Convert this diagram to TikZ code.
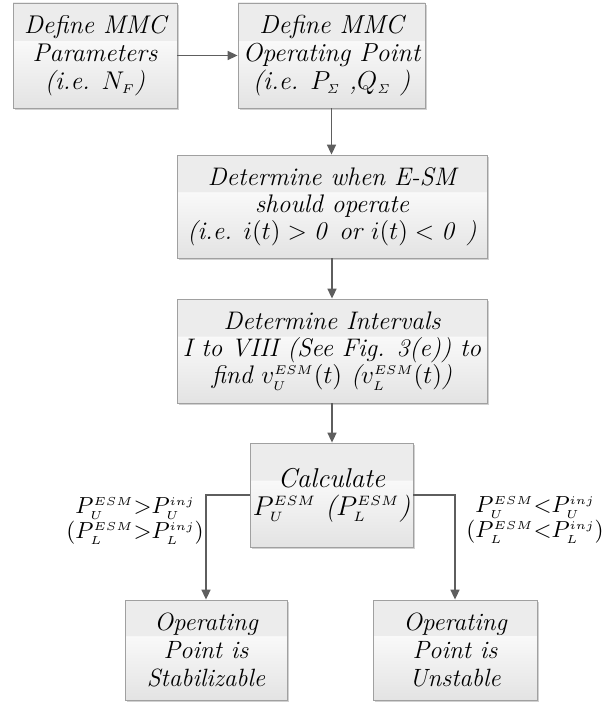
\documentclass[tikz,border=0pt]{standalone}
\usepackage{fix-cm}
\usetikzlibrary{arrows.meta,shadows}
\definecolor{edgeC}{HTML}{A0A0A0}
\definecolor{arrC}{HTML}{5E5E5E}
\definecolor{topC}{HTML}{ECECEC}
\definecolor{midC}{HTML}{F9F9F9}
\definecolor{botC}{HTML}{E3E3E3}
\pgfdeclareverticalshading{glassy}{100bp}{color(0bp)=(botC); color(25bp)=(botC); color(57bp)=(midC); color(57.3bp)=(topC); color(75bp)=(topC); color(100bp)=(topC)}
\newcommand{\ssz}[1]{{\scriptscriptstyle #1}}
\begin{document}
\begin{tikzpicture}[x=0.5pt,y=-0.5pt,
 box/.style={draw=edgeC, line width=0.4pt, shade, shading=glassy,
   drop shadow={shadow xshift=1pt,shadow yshift=-1pt,fill=black,opacity=0.18},
   inner sep=0pt, align=center, font=\fontsize{#1}{14}\selectfont\itshape},
 box/.default=13.4,
 tight/.style={font=\fontsize{12.7}{13.6}\selectfont\itshape},
 arr/.style={draw=arrC, line width=0.8pt, -{Triangle[length=5pt,width=4.5pt]}},
 lab/.style={inner sep=0pt, align=center, font=\fontsize{11.6}{11.5}\selectfont}]
\useasboundingbox (0,0) rectangle (604,706);
\node[box=12.8, minimum width=82pt, minimum height=52.5pt] (b1) at (95,55.5)
  {Define MMC\\Parameters\\(i.e. $N_{\ssz{F}}$)};
\node[box=13, minimum width=93.5pt, minimum height=52.5pt] (b2) at (331.5,55.5)
  {Define MMC\\Operating Point\\(i.e. $P_{\ssz{\mathit{\Sigma}}}$ ,$Q_{\ssz{\mathit{\Sigma}}}$ )};
\node[box, tight, minimum width=155pt, minimum height=51.5pt] (b3) at (332,206.5)
  {Determine when E-SM\\should operate\\(i.e. $i(t) > \mathit{0}$ or $i(t) < \mathit{0}$ )};
\node[box, tight, minimum width=155pt, minimum height=52pt] (b4) at (332,351)
  {Determine Intervals\\I to VIII (See Fig. 3(e)) to\\find $v_{\ssz{U}}^{\ssz{ESM}}(t)$ ($v_{\ssz{L}}^{\ssz{ESM}}(t)$)};
\node[box=13.6, minimum width=81.5pt, minimum height=52pt] (b5) at (331.5,495)
  {Calculate\\$P_{\ssz{U}}^{\ssz{ESM}}$ ($P_{\ssz{L}}^{\ssz{ESM}}$)};
\node[box=12.5, minimum width=81pt, minimum height=50pt] (b6) at (206,650)
  {Operating\\Point is\\Stabilizable};
\node[box=12.5, minimum width=82pt, minimum height=50pt] (b7) at (455,650)
  {Operating\\Point is\\Unstable};
\node[lab] (l1) at (135,521)
  {$P_{\ssz{U}}^{\ssz{ESM}}{>}P_{\ssz{U}}^{\ssz{inj}}$\\$(P_{\ssz{L}}^{\ssz{ESM}}{>}P_{\ssz{L}}^{\ssz{inj}})$};
\node[lab] (l2) at (535,520)
  {$P_{\ssz{U}}^{\ssz{ESM}}{<}P_{\ssz{U}}^{\ssz{inj}}$\\$(P_{\ssz{L}}^{\ssz{ESM}}{<}P_{\ssz{L}}^{\ssz{inj}})$};
\draw[arr] (b1.east) -- (b2.west);
\draw[arr] (b2.south) -- (b2.south |- b3.north);
\draw[arr] (b3.south) -- (b3.south |- b4.north);
\draw[arr] (b4.south) -- (b4.south |- b5.north);
\draw[arr] (b5.west) -| (b6.north);
\draw[arr] (b5.east) -| (b7.north);
\end{tikzpicture}
\end{document}
